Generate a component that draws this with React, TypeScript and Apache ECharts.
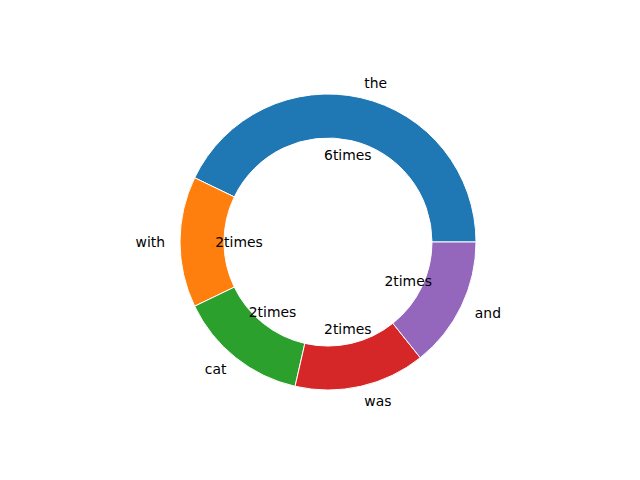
import React, { useEffect, useRef } from "react";
import * as echarts from "echarts";

const words = ["the", "with", "cat", "was", "and"];
const counts = [6, 2, 2, 2, 2];
const colors = ["#1f77b4", "#ff7f0e", "#2ca02c", "#d62728", "#9467bd"];

export default function App() {
  const ref = useRef<HTMLDivElement>(null);
  useEffect(() => {
    const chart = echarts.init(ref.current!, null, { renderer: "svg" });
    const data = words.map((w, i) => ({ name: w, value: counts[i], itemStyle: { color: colors[i] } }));
    const font = { fontFamily: "DejaVu Sans", fontSize: 13.9, color: "#000" };
    chart.setOption({
      animation: false,
      backgroundColor: "#fff",
      series: [
        {
          type: "pie",
          center: [328, 242],
          radius: [104, 148],
          startAngle: 0,
          clockwise: false,
          avoidLabelOverlap: false,
          silent: true,
          itemStyle: { borderColor: "#fff", borderWidth: 1 },
          label: { show: true, position: "outside", formatter: "{b}", distanceToLabelLine: 0, ...font },
          labelLine: { show: false, length: 15, length2: 0 },
          emphasis: { disabled: true },
          data,
        },
        {
          type: "pie",
          center: [328, 242],
          radius: [0, 172],
          startAngle: 0,
          clockwise: false,
          avoidLabelOverlap: false,
          silent: true,
          z: 5,
          itemStyle: { color: "rgba(0,0,0,0)", borderWidth: 0 },
          label: { show: true, position: "inside", formatter: "{c}times", ...font },
          labelLine: { show: false },
          emphasis: { disabled: true },
          data: words.map((w, i) => ({ name: w, value: counts[i] })),
        },
      ],
    });
    return () => chart.dispose();
  }, []);
  return <div ref={ref} style={{ position: "fixed", left: 0, top: 0, width: 640, height: 480 }} />;
}
